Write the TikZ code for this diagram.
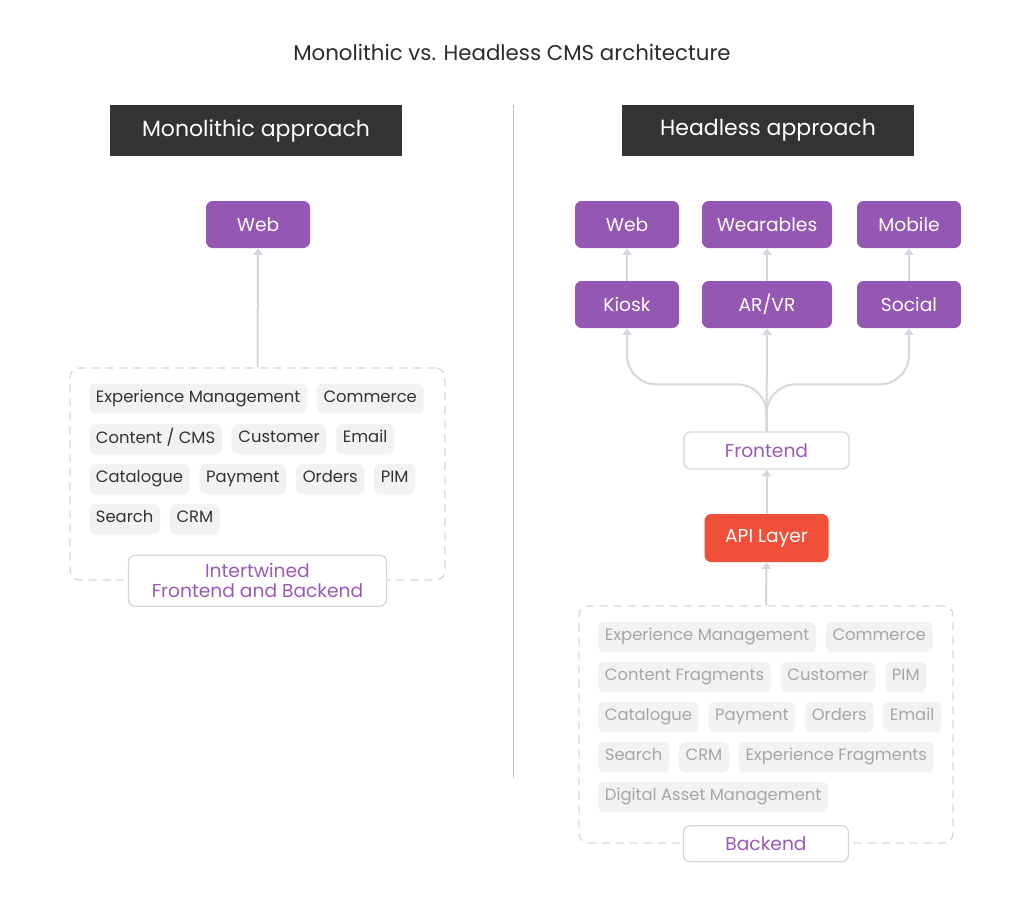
\documentclass[tikz,border=0pt]{standalone}
\usepackage{fontspec}
\setmainfont{Poppins}
\usetikzlibrary{positioning,chains,arrows.meta}

\definecolor{headdark}{RGB}{51,51,51}
\definecolor{titletext}{RGB}{43,43,43}
\definecolor{chanpurple}{RGB}{149,87,180}
\definecolor{labelpurple}{RGB}{155,89,182}
\definecolor{apired}{RGB}{240,80,58}
\definecolor{linegray}{RGB}{213,215,222}
\definecolor{chipgray}{RGB}{242,242,242}
\definecolor{chiptext}{RGB}{51,51,51}
\definecolor{fadedtext}{RGB}{166,166,166}
\definecolor{dividergray}{RGB}{190,190,190}

\begin{document}
\begin{tikzpicture}[x=0.75pt,y=-0.75pt,
  header/.style={fill=headdark,text=white,minimum width=219pt,minimum height=38.25pt,font=\fontsize{16.5}{20}\selectfont},
  channel/.style={fill=chanpurple,text=white,rounded corners=5pt,minimum height=35.25pt,font=\fontsize{14}{17}\selectfont},
  apibox/.style={fill=apired,text=white,rounded corners=5pt,minimum width=93pt,minimum height=36pt,font=\fontsize{14}{17}\selectfont},
  tagbox/.style={draw=linegray,line width=1pt,fill=white,text=labelpurple,rounded corners=5pt,font=\fontsize{14}{15}\selectfont,align=center},
  layer/.style={draw=linegray,line width=1pt,dash pattern=on 6pt off 4.5pt,rounded corners=7pt},
  chip/.style={fill=chipgray,text=chiptext,rounded corners=4pt,anchor=west,inner xsep=5pt,minimum height=22.5pt,font=\fontsize{12.3}{14}\selectfont},
  faded/.style={chip,text=fadedtext},
  link/.style={draw=linegray,line width=1.5pt,-{Triangle[length=5pt,width=7pt]}}]

\useasboundingbox (0,0) rectangle (1024,907);

% title and headers
\node[text=titletext,font=\fontsize{16}{19}\selectfont] (title) at (512,52) {Monolithic vs. Headless CMS architecture};
\node[header] (hmono) at (256,130.5) {Monolithic approach};
\node[header] (hhead) at (768,130.5) {Headless approach};
\draw[dividergray,line width=0.75pt] (513,105) -- (513,778);

% monolithic side
\node[channel,minimum width=78pt] (mweb) at (258,224.5) {Web};
\node[layer,minimum width=281.25pt,minimum height=159pt] (mono) at (257.5,474) {};

\begin{scope}[shift={(89,398.5)},start chain=going right,node distance=7pt]
\def\mrow{1/{Experience Management},2/{Commerce}}
\foreach \i / \element in \mrow
  \node [on chain,chip] (ma\i) {\strut \element};
\end{scope}

\begin{scope}[shift={(89,439)},start chain=going right,node distance=7pt]
\def\mrow{1/{Content / CMS},2/{Customer},3/{Email}}
\foreach \i / \element in \mrow
  \node [on chain,chip] (mb\i) {\strut \element};
\end{scope}

\begin{scope}[shift={(89,479)},start chain=going right,node distance=7pt]
\def\mrow{1/{Catalogue},2/{Payment},3/{Orders},4/{PIM}}
\foreach \i / \element in \mrow
  \node [on chain,chip] (mc\i) {\strut \element};
\end{scope}

\begin{scope}[shift={(89,519)},start chain=going right,node distance=7pt]
\def\mrow{1/{Search},2/{CRM}}
\foreach \i / \element in \mrow
  \node [on chain,chip] (md\i) {\strut \element};
\end{scope}

\node[tagbox,minimum width=193.5pt,minimum height=38.25pt] (mtag) at (mono.south) {Intertwined\\Frontend and Backend};
\draw[link] (mono.north) -- (mweb.south);

% headless side
\node[channel,minimum width=78pt] (hweb) at (627,224.5) {Web};
\node[channel,minimum width=97.5pt] (wear) at (767,224.5) {Wearables};
\node[channel,minimum width=78pt] (mobile) at (909,224.5) {Mobile};
\node[channel,minimum width=78pt] (kiosk) at (627,304.5) {Kiosk};
\node[channel,minimum width=97.5pt] (arvr) at (767,304.5) {AR/VR};
\node[channel,minimum width=78pt] (social) at (909,304.5) {Social};

\draw[link] (kiosk.north) -- (hweb.south);
\draw[link] (arvr.north) -- (wear.south);
\draw[link] (social.north) -- (mobile.south);

\node[tagbox,minimum width=123.75pt,minimum height=27.75pt] (front) at (766.5,450.5) {Frontend};
\node[apibox] (api) at (766.5,538) {API Layer};

\draw[link,rounded corners=22pt] (front.north) -- ++(0,-47) -| (kiosk.south);
\draw[link,rounded corners=22pt] (front.north) -- ++(0,-47) -| (social.south);
\draw[link] (front.north) -- (arvr.south);
\draw[link] (api.north) -- (front.south);

\node[layer,minimum width=280.5pt,minimum height=177.75pt] (back) at (766,724.5) {};

\begin{scope}[shift={(598,637)},start chain=going right,node distance=7pt]
\def\hrow{1/{Experience Management},2/{Commerce}}
\foreach \i / \element in \hrow
  \node [on chain,faded] (ba\i) {\strut \element};
\end{scope}

\begin{scope}[shift={(598,677)},start chain=going right,node distance=7pt]
\def\hrow{1/{Content Fragments},2/{Customer},3/{PIM}}
\foreach \i / \element in \hrow
  \node [on chain,faded] (bb\i) {\strut \element};
\end{scope}

\begin{scope}[shift={(598,717)},start chain=going right,node distance=7pt]
\def\hrow{1/{Catalogue},2/{Payment},3/{Orders},4/{Email}}
\foreach \i / \element in \hrow
  \node [on chain,faded] (bc\i) {\strut \element};
\end{scope}

\begin{scope}[shift={(598,757)},start chain=going right,node distance=7pt]
\def\hrow{1/{Search},2/{CRM},3/{Experience Fragments}}
\foreach \i / \element in \hrow
  \node [on chain,faded] (bd\i) {\strut \element};
\end{scope}

\begin{scope}[shift={(598,797)},start chain=going right,node distance=7pt]
\def\hrow{1/{Digital Asset Management}}
\foreach \i / \element in \hrow
  \node [on chain,faded] (be\i) {\strut \element};
\end{scope}

\node[tagbox,minimum width=123.75pt,minimum height=27pt] (btag) at (back.south) {Backend};
\draw[link] (back.north) -- (api.south);

\end{tikzpicture}
\end{document}
